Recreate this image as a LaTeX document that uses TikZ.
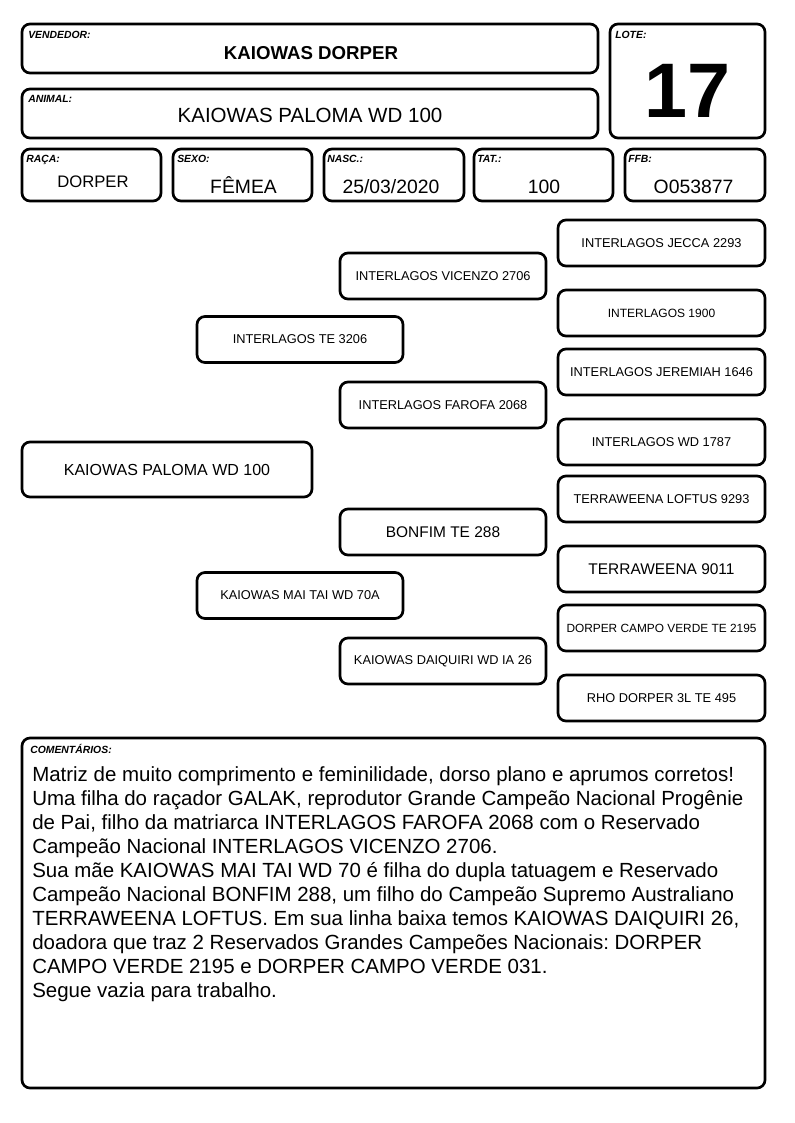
\documentclass[tikz,border=0pt]{standalone}
\usepackage{fontspec}
\setmainfont{Liberation Sans}
\begin{document}
\frenchspacing
\begin{tikzpicture}[x=0.75pt,y=-0.75pt,
  box/.style={draw, line width=2pt, rounded corners=6pt, inner sep=0pt},
  lbl/.style={font=\fontsize{7.8}{9}\selectfont\bfseries\itshape, anchor=base west, inner sep=0pt},
  val/.style={anchor=base, inner sep=0pt, font=\fontsize{14.5}{17}\selectfont},
  ped/.style={box, minimum width=154.5pt, minimum height=34.5pt, align=center, font=\fontsize{9.6}{11}\selectfont},
  pedr/.style={ped, minimum width=155.25pt},
  cline/.style={anchor=base west, inner sep=0pt, font=\fontsize{15.35}{18}\selectfont\frenchspacing},
]
\useasboundingbox (0,0) rectangle (794,1123);
% header
\node[box, minimum width=432pt, minimum height=36.75pt] (vend) at (310,48.5) {};
\node[lbl] (vendl) at (28,39) {VENDEDOR:};
\node[val, font=\fontsize{14}{16}\selectfont\bfseries] (vendv) at (311,60) {KAIOWAS DORPER};
\node[box, minimum width=116.25pt, minimum height=85.5pt] (lote) at (687.5,81) {};
\node[lbl] (lotel) at (615,39) {LOTE:};
\node[val, font=\fontsize{58}{60}\selectfont\bfseries] (lotev) at (687.5,118) {17};
\node[box, minimum width=432pt, minimum height=36.75pt] (animal) at (310,113.5) {};
\node[lbl] (animall) at (28,103) {ANIMAL:};
\node[val, font=\fontsize{15.4}{18}\selectfont] (animalv) at (310,123) {KAIOWAS PALOMA WD 100};
% row
\node[box, minimum width=104.25pt, minimum height=39pt] (raca) at (91.5,175) {};
\node[box, minimum width=104.25pt, minimum height=39pt] (sexo) at (242.5,175) {};
\node[box, minimum width=105pt, minimum height=39pt] (nasc) at (394,175) {};
\node[box, minimum width=104.25pt, minimum height=39pt] (tat) at (543.5,175) {};
\node[box, minimum width=105pt, minimum height=39pt] (ffb) at (695,175) {};
\node[lbl] (racal) at (26,163) {RAÇA:};
\node[lbl] (sexol) at (177,163) {SEXO:};
\node[lbl] (nascl) at (327,163) {NASC.:};
\node[lbl] (tatl) at (477,163) {TAT.:};
\node[lbl] (ffbl) at (628,163) {FFB:};
\node[val, font=\fontsize{12.5}{15}\selectfont] (racav) at (93,188) {DORPER};
\node[val] (sexov) at (243.5,194) {FÊMEA};
\node[val] (nascv) at (391,194) {25/03/2020};
\node[val] (tatv) at (544,194) {100};
\node[val] (ffbv) at (693.5,194) {O053877};
% pedigree
\node[box, minimum width=217.5pt, minimum height=41.25pt, font=\fontsize{12}{14}\selectfont] (main) at (167,469.5) {KAIOWAS PALOMA WD 100};
\node[ped] (p) at (300,339.5) {INTERLAGOS TE 3206};
\node[ped] (m) at (300,595.5) {KAIOWAS MAI TAI WD 70A};
\node[ped] (pp) at (443,276) {INTERLAGOS VICENZO 2706};
\node[ped] (pm) at (443,405) {INTERLAGOS FAROFA 2068};
\node[ped, font=\fontsize{11.6}{13}\selectfont] (mp) at (443,532) {BONFIM TE 288};
\node[ped] (mm) at (443,661) {KAIOWAS DAIQUIRI WD IA 26};
\node[pedr] (ppp) at (661.5,243) {INTERLAGOS JECCA 2293};
\node[pedr, font=\fontsize{9}{11}\selectfont] (ppm) at (661.5,313) {INTERLAGOS 1900};
\node[pedr] (pmp) at (661.5,372) {INTERLAGOS JEREMIAH 1646};
\node[pedr] (pmm) at (661.5,442) {INTERLAGOS WD 1787};
\node[pedr] (mpp) at (661.5,499) {TERRAWEENA LOFTUS 9293};
\node[pedr, font=\fontsize{11.6}{13}\selectfont] (mpm) at (661.5,569) {TERRAWEENA 9011};
\node[pedr, font=\fontsize{8.9}{11}\selectfont] (mmp) at (661.5,628) {DORPER CAMPO VERDE TE 2195};
\node[pedr] (mmm) at (661.5,698) {RHO DORPER 3L TE 495};
% comments
\node[box, minimum width=557.25pt, minimum height=262.5pt] (com) at (393.5,913) {};
\node[lbl] (coml) at (30,753) {COMENTÁRIOS:};
\node[cline] (c1) at (32,781.5) {Matriz de muito comprimento e feminilidade, dorso plano e aprumos corretos!};
\node[cline] (c2) at (32,805.5) {Uma filha do raçador GALAK, reprodutor Grande Campeão Nacional Progênie};
\node[cline] (c3) at (32,829.5) {de Pai, filho da matriarca INTERLAGOS FAROFA 2068 com o Reservado};
\node[cline] (c4) at (32,853.5) {Campeão Nacional INTERLAGOS VICENZO 2706.};
\node[cline] (c5) at (32,877.5) {Sua mãe KAIOWAS MAI TAI WD 70 é filha do dupla tatuagem e Reservado};
\node[cline] (c6) at (32,901.5) {Campeão Nacional BONFIM 288, um filho do Campeão Supremo Australiano};
\node[cline] (c7) at (32,925.5) {TERRAWEENA LOFTUS. Em sua linha baixa temos KAIOWAS DAIQUIRI 26,};
\node[cline] (c8) at (32,949.5) {doadora que traz 2 Reservados Grandes Campeões Nacionais: DORPER};
\node[cline] (c9) at (32,973.5) {CAMPO VERDE 2195 e DORPER CAMPO VERDE 031.};
\node[cline] (c10) at (32,997.5) {Segue vazia para trabalho.};
\end{tikzpicture}
\end{document}
